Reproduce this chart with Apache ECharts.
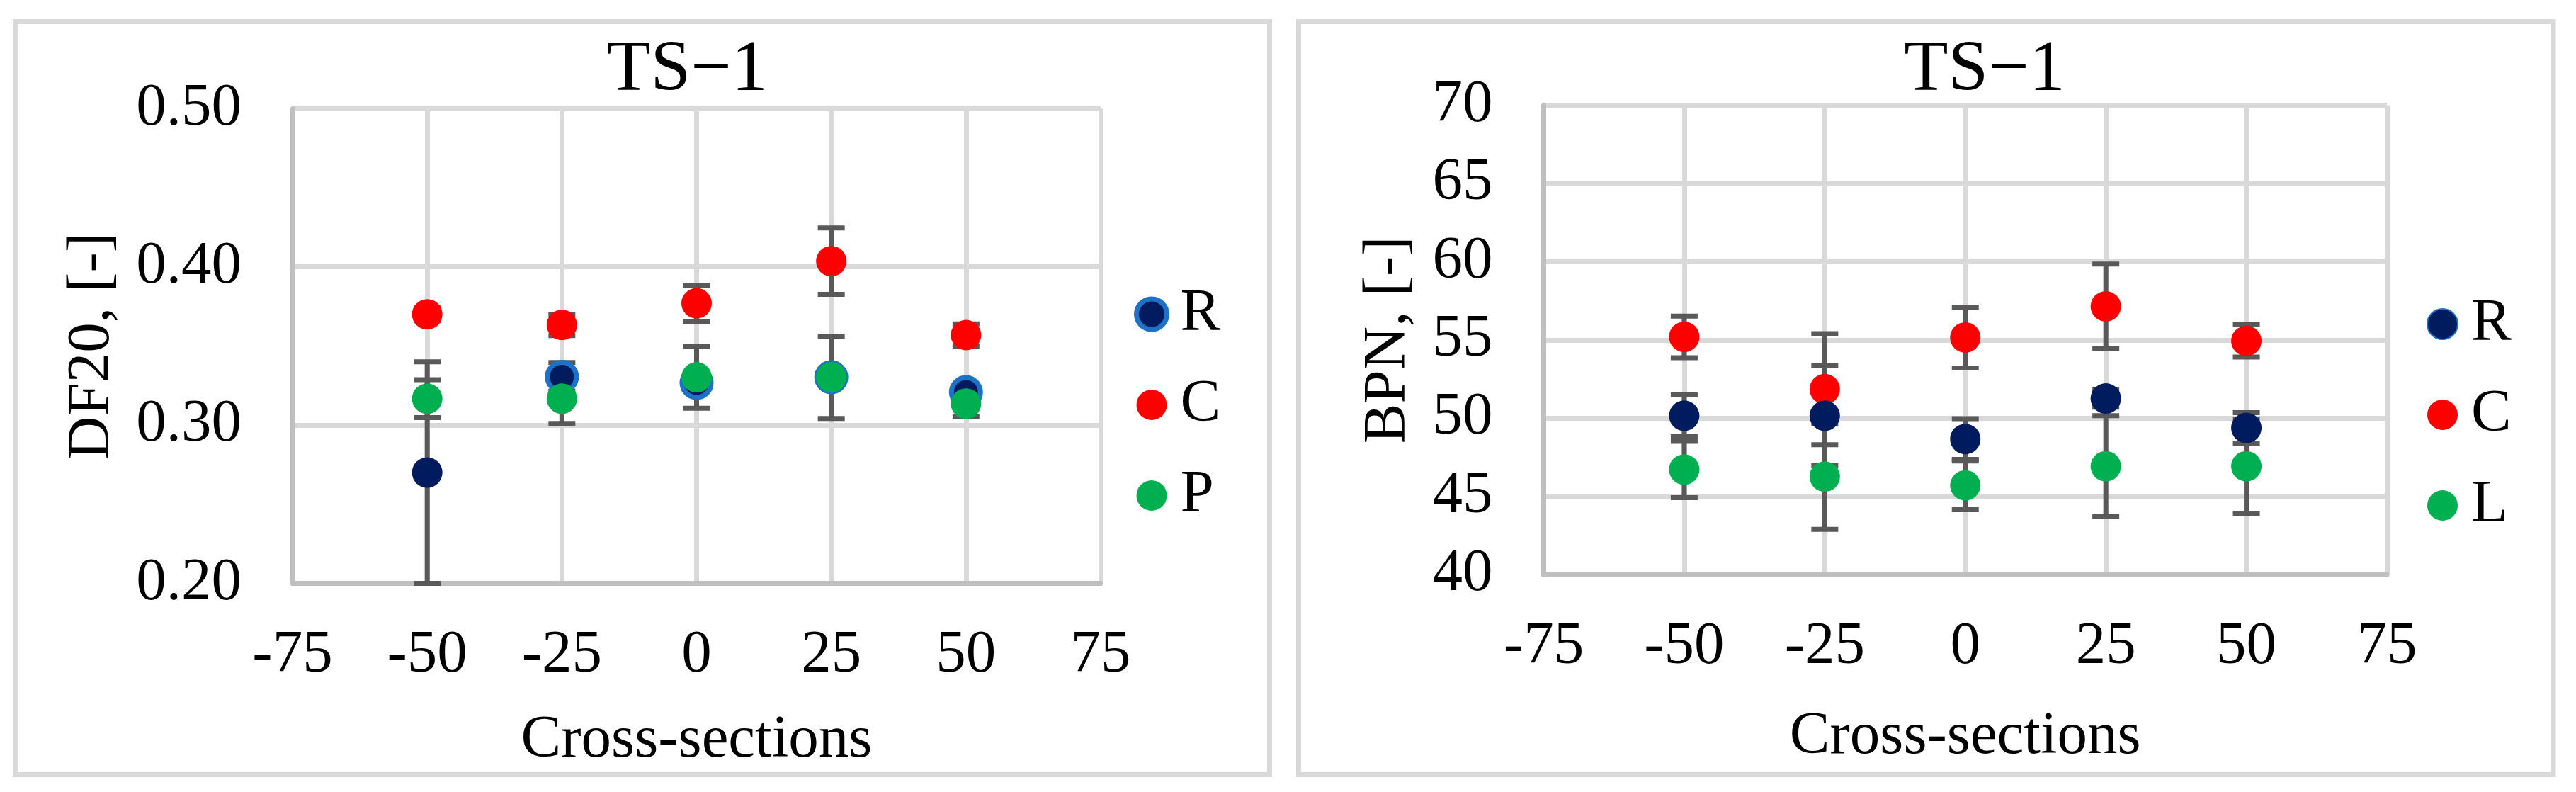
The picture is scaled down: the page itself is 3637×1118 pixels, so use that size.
<!DOCTYPE html>
<html><head><meta charset="utf-8">
<script src="https://cdn.jsdelivr.net/npm/echarts@6/dist/echarts.min.js"></script>
<style>html,body{margin:0;padding:0;background:#fff}#c{width:3637px;height:1118px}</style>
</head><body><div id="c"></div>
<script>
// ---- data ----
const crossSections = [-50, -25, 0, 25, 50];

// Left: DF20
const dfR    = [0.270, 0.3305, 0.3267, 0.3302, 0.3208];
const dfRErr = [0.070, 0.009, 0.005, 0.004, 0.004];
const dfC    = [0.370, 0.3633, 0.377, 0.4036, 0.3569];
const dfCErr = [0.004, 0.0067, 0.0115, 0.021, 0.007];
const dfP    = [0.3167, 0.3167, 0.3302, 0.3302, 0.3136];
const dfPErr = [0.012, 0.0157, 0.0195, 0.026, 0.008];

// Right: BPN
const bpnR    = [50.15, 50.15, 48.66, 51.25, 49.37];
const bpnRErr = [1.34, 3.2, 1.3, 0.55, 0.98];
const bpnC    = [55.19, 51.85, 55.15, 57.14, 54.93];
const bpnCErr = [1.33, 3.55, 1.95, 2.7, 1.03];
const bpnL    = [46.71, 46.26, 45.70, 46.92, 46.92];
const bpnLErr = [1.8, 3.37, 1.56, 3.23, 3.0];

const xTicks = {min: -75, max: 75, step: 25};
const dfTicks = {min: 0.2, max: 0.5, step: 0.1};
const bpnTicks = {min: 40, max: 70, step: 5};

const titleText = 'TS\u22121';
const xName = 'Cross-sections';
const dfName = 'DF20, [-]';
const bpnName = 'BPN, [-]';
const legendLeft = ['R', 'C', 'P'];
const legendRight = ['R', 'C', 'L'];

// ---- styles ----
const FONT = 'Liberation Serif';
const NAVY = '#001c5f', RED = '#ff0000', GREEN = '#00b050', RING = '#1b72c6', ERR = '#595959';

function pts(ys) { return crossSections.map((x, i) => [x, ys[i]]); }
function errPts(ys, es) { return crossSections.map((x, i) => [x, ys[i], es[i]]); }

function errRender(minV) {
  return function (params, api) {
    const x = api.value(0), y = api.value(1), e = api.value(2);
    const lo = Math.max(y - e, minV), hi = y + e;
    const pHi = api.coord([x, hi]), pLo = api.coord([x, lo]);
    const cw = 19;
    const style = {stroke: ERR, lineWidth: 7};
    return {type: 'group', children: [
      {type: 'line', shape: {x1: pHi[0], y1: pHi[1], x2: pLo[0], y2: pLo[1]}, style},
      {type: 'line', shape: {x1: pHi[0] - cw, y1: pHi[1], x2: pHi[0] + cw, y2: pHi[1]}, style},
      {type: 'line', shape: {x1: pLo[0] - cw, y1: pLo[1], x2: pLo[0] + cw, y2: pLo[1]}, style}
    ]};
  };
}

function xAxisCfg(gi, gap) {
  return {
    gridIndex: gi, type: 'value', min: xTicks.min, max: xTicks.max, interval: xTicks.step,
    name: xName, nameLocation: 'middle', nameGap: gap,
    nameTextStyle: {fontFamily: FONT, fontSize: 85, color: '#000'},
    axisLine: {show: true, onZero: false, lineStyle: {color: '#bfbfbf', width: 7}},
    axisTick: {show: false},
    axisLabel: {fontFamily: FONT, fontSize: 85, color: '#000', margin: 60},
    splitLine: {show: true, lineStyle: {color: '#d9d9d9', width: 7}}
  };
}
function yAxisCfg(gi, t, name, gap, dec) {
  return {
    gridIndex: gi, type: 'value', min: t.min, max: t.max, interval: t.step,
    name: name, nameLocation: 'middle', nameGap: gap, nameRotate: 90,
    nameTextStyle: {fontFamily: FONT, fontSize: 85, color: '#000'},
    axisLine: {show: true, onZero: false, lineStyle: {color: '#bfbfbf', width: 7}},
    axisTick: {show: false},
    axisLabel: {fontFamily: FONT, fontSize: 85, color: '#000', margin: 72,
      formatter: v => Number(v).toFixed(dec)},
    splitLine: {show: true, lineStyle: {color: '#d9d9d9', width: 7}}
  };
}

const leftRData = pts(dfR).map((p, i) => i === 0
  ? {value: p, symbolSize: 43, itemStyle: {borderWidth: 0}}
  : {value: p});

const option = {
  animation: false,
  backgroundColor: '#fff',
  graphic: [
    {type: 'rect', shape: {x: 21.5, y: 30.5, width: 1771, height: 1063},
     style: {fill: 'none', stroke: '#d9d9d9', lineWidth: 7}, z: -10},
    {type: 'rect', shape: {x: 1833.5, y: 30.5, width: 1771.5, height: 1063},
     style: {fill: 'none', stroke: '#d9d9d9', lineWidth: 7}, z: -10}
  ],
  title: [
    {text: titleText, left: 965, top: 44, textAlign: 'center',
     textStyle: {fontFamily: FONT, fontSize: 102, fontWeight: 'normal', color: '#000'}},
    {text: titleText, left: 2797, top: 44, textAlign: 'center',
     textStyle: {fontFamily: FONT, fontSize: 102, fontWeight: 'normal', color: '#000'}}
  ],
  legend: [
    {orient: 'vertical', left: 1596, top: 396, itemWidth: 71, itemHeight: 43, itemGap: 43,
     data: [{name: legendLeft[0], itemStyle: {borderWidth: 7, borderColor: RING}}, legendLeft[1], legendLeft[2]],
     textStyle: {fontFamily: FONT, fontSize: 85, color: '#000'}, selectedMode: false},
    {orient: 'vertical', left: 3421, top: 410, itemWidth: 71, itemHeight: 43, itemGap: 43,
     data: legendRight,
     textStyle: {fontFamily: FONT, fontSize: 85, color: '#000'}, selectedMode: false}
  ],
  grid: [
    {left: 413, top: 153.4, width: 1141, height: 670},
    {left: 2179.5, top: 148.5, width: 1190.5, height: 662.5}
  ],
  xAxis: [xAxisCfg(0, 180), xAxisCfg(1, 187)],
  yAxis: [yAxisCfg(0, dfTicks, dfName, 240, 2), yAxisCfg(1, bpnTicks, bpnName, 176, 0)],
  series: [
    // error bars (behind markers)
    {type: 'custom', name: 'eC1', xAxisIndex: 0, yAxisIndex: 0, z: 1, renderItem: errRender(dfTicks.min), data: errPts(dfC, dfCErr), encode: {x: 0, y: 1}},
    {type: 'custom', name: 'eR1', xAxisIndex: 0, yAxisIndex: 0, z: 1, renderItem: errRender(dfTicks.min), data: errPts(dfR, dfRErr), encode: {x: 0, y: 1}},
    {type: 'custom', name: 'eP1', xAxisIndex: 0, yAxisIndex: 0, z: 1, renderItem: errRender(dfTicks.min), data: errPts(dfP, dfPErr), encode: {x: 0, y: 1}},
    {type: 'custom', name: 'eC2', xAxisIndex: 1, yAxisIndex: 1, z: 1, renderItem: errRender(bpnTicks.min), data: errPts(bpnC, bpnCErr), encode: {x: 0, y: 1}},
    {type: 'custom', name: 'eR2', xAxisIndex: 1, yAxisIndex: 1, z: 1, renderItem: errRender(bpnTicks.min), data: errPts(bpnR, bpnRErr), encode: {x: 0, y: 1}},
    {type: 'custom', name: 'eL2', xAxisIndex: 1, yAxisIndex: 1, z: 1, renderItem: errRender(bpnTicks.min), data: errPts(bpnL, bpnLErr), encode: {x: 0, y: 1}},
    // markers left
    {type: 'scatter', name: 'C', xAxisIndex: 0, yAxisIndex: 0, z: 3, symbol: 'circle', symbolSize: 43,
     itemStyle: {color: RED, opacity: 1}, data: pts(dfC)},
    {type: 'scatter', name: 'R', xAxisIndex: 0, yAxisIndex: 0, z: 3, symbol: 'circle', symbolSize: 41,
     itemStyle: {color: NAVY, borderColor: RING, borderWidth: 7, opacity: 1}, data: leftRData},
    {type: 'scatter', name: 'P', xAxisIndex: 0, yAxisIndex: 0, z: 3, symbol: 'circle', symbolSize: 43,
     itemStyle: {color: GREEN, opacity: 1}, data: pts(dfP)},
    // markers right
    {type: 'scatter', name: 'C', xAxisIndex: 1, yAxisIndex: 1, z: 3, symbol: 'circle', symbolSize: 43,
     itemStyle: {color: RED, opacity: 1}, data: pts(bpnC)},
    {type: 'scatter', name: 'R', xAxisIndex: 1, yAxisIndex: 1, z: 3, symbol: 'circle', symbolSize: 43,
     itemStyle: {color: NAVY, opacity: 1}, data: pts(bpnR)},
    {type: 'scatter', name: 'L', xAxisIndex: 1, yAxisIndex: 1, z: 3, symbol: 'circle', symbolSize: 43,
     itemStyle: {color: GREEN, opacity: 1}, data: pts(bpnL)}
  ]
};

const chart = echarts.init(document.getElementById('c'), null, {renderer: 'canvas'});
chart.setOption(option);
</script>
</body></html>
